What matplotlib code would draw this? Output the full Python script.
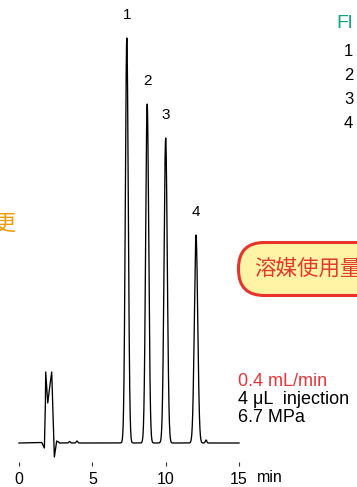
import numpy as np
import matplotlib.pyplot as plt

plt.rcParams['font.family'] = ['Liberation Sans', 'Noto Sans CJK JP', 'DejaVu Sans']

# peak table: retention time (min), height (signal units), width sigma (min)
peak_labels = ['1', '2', '3', '4']
peak_rt = [7.35, 8.74, 10.0, 12.07]
peak_height = [405, 339, 305, 208]
peak_sigma = [0.10, 0.105, 0.11, 0.115]

# small baseline ripples after the void and after peak 4
ripple_rt = [3.45, 3.95, 12.75]
ripple_height = [1.5, 2.0, 3.0]

# solvent front disturbance, read point by point (min, signal)
front_t = [0.0, 1.55, 1.73, 1.80, 1.82, 1.96, 2.11, 2.23, 2.34, 2.41, 2.57, 2.75]
front_y = [0.0, 0.5, -5.0, 40.0, 71.0, 40.0, 58.0, 71.0, 20.0, -14.0, 2.0, 0.5]

xticks = [0, 5, 10, 15]
conditions = ['0.4 mL/min', '4 μL  injection', '6.7 MPa']
condition_colors = ['#e6343c', 'black', 'black']
legend_nums = ['1', '2', '3', '4']

fig = plt.figure(figsize=(3.57, 4.87), dpi=100)
ax = fig.add_axes([0, 0, 1, 1])

# chromatogram trace
t = np.linspace(front_t[-1], 15, 3000)
sig = np.zeros_like(t)
for rt, h, s in zip(peak_rt, peak_height, peak_sigma):
    sig += h * np.exp(-0.5 * ((t - rt) / s) ** 2)
for rt, h in zip(ripple_rt, ripple_height):
    sig += h * np.exp(-0.5 * ((t - rt) / 0.05) ** 2)
trace_t = np.concatenate([front_t, t])
trace_y = np.concatenate([front_y, sig])
ax.plot(trace_t, trace_y, color='black', lw=0.95)

for lab, rt, h in zip(peak_labels, peak_rt, peak_height):
    ax.annotate(lab, (rt, h), xytext=(0, 16.5), textcoords='offset points',
                ha='center', va='center', fontsize=11)

px = 14.667  # pixels per minute
ax.set_xlim(-19 / px, (357 - 19) / px)
ax.set_ylim(-44, 443)
for side in ['left', 'right', 'top']:
    ax.spines[side].set_visible(False)
ax.spines['bottom'].set_position(('data', -23))
ax.spines['bottom'].set_visible(False)
ax.set_yticks([])
ax.set_xticks(xticks)
ax.tick_params(axis='x', direction='in', length=3, width=0.8, pad=4.3,
               labelsize=11.5, color='#333333')
ax.text(16.2, -35, 'min', fontsize=11.5, ha='left', va='center')

# side annotations
fig.text(16 / 357, 1 - 224 / 487, '条件変更', fontsize=15.5, color='#f39800',
         ha='right', va='center', family=['Noto Sans CJK JP'])
fig.text(254 / 357, 1 - 269 / 487, '溶媒使用量削減', fontsize=15.5, color='#e23b2f',
         ha='left', va='center', family=['Noto Sans CJK JP'],
         bbox=dict(boxstyle='round,pad=0.72,rounding_size=1.2', fc='#fff4a6',
                   ec='#e8332a', lw=2.2))

fig.text(336 / 357, 1 - 23 / 487, 'Fl', fontsize=14, color='#14a37f',
         ha='left', va='center')
for i, n in enumerate(legend_nums):
    fig.text(344 / 357, 1 - (51 + 24 * i) / 487, n, fontsize=12,
             ha='left', va='center')

for i, (txt, col) in enumerate(zip(conditions, condition_colors)):
    fig.text(238 / 357, 1 - (382 + 17.5 * i) / 487, txt, fontsize=13,
             color=col, ha='left', va='center')

fig.savefig('out.png', dpi=100)
